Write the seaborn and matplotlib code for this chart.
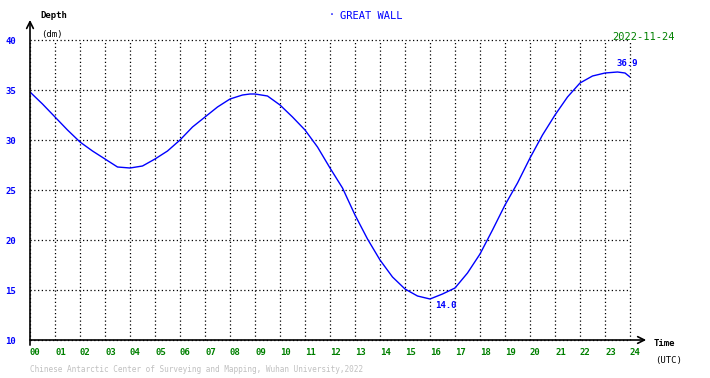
import numpy as np
import pandas as pd
import matplotlib
matplotlib.use('Agg')
import matplotlib.pyplot as plt
import seaborn as sns

# giờ UTC và độ sâu (dm)
hours = [0, 0.5, 1, 1.5, 2, 2.5, 3, 3.5, 4, 4.5, 5, 5.5, 6, 6.5, 7, 7.5, 8, 8.5,
         8.8, 9, 9.5, 10, 10.5, 11, 11.5, 12, 12.5, 13, 13.5, 14, 14.5, 15, 15.5,
         16, 16.5, 17, 17.5, 18, 18.5, 19, 19.5, 20, 20.5, 21, 21.5, 22, 22.5,
         23, 23.5, 23.8, 24]
depth = [34.8, 33.6, 32.3, 31.0, 29.8, 28.9, 28.1, 27.3, 27.2, 27.4, 28.1, 28.9,
         30.0, 31.3, 32.3, 33.3, 34.1, 34.5, 34.6, 34.6, 34.4, 33.5, 32.3, 31.0,
         29.3, 27.2, 25.2, 22.5, 20.1, 18.0, 16.3, 15.1, 14.4, 14.1, 14.6, 15.2,
         16.7, 18.6, 21.0, 23.5, 25.7, 28.2, 30.5, 32.5, 34.3, 35.7, 36.4, 36.7,
         36.8, 36.7, 36.3]
x_labels = ['%02d' % h for h in range(25)]
y_ticks = [10, 15, 20, 25, 30, 35, 40]

df = pd.DataFrame({'hour': hours, 'depth': depth})

sns.set_style('white')
plt.rcParams['font.family'] = ['DejaVu Sans Mono']

fig = plt.figure(figsize=(7.1, 3.78), dpi=100)
ax = fig.add_axes([30 / 710, 38 / 378, 600 / 710, 300 / 378])

sns.lineplot(data=df, x='hour', y='depth', color='#0000ff', linewidth=1, ax=ax)

ax.set_xlim(0, 24)
ax.set_ylim(10, 40)
ax.set_xticks(range(25))
ax.set_xticklabels(x_labels)
ax.set_yticks(y_ticks)
ax.set_yticklabels([str(v) for v in y_ticks])
ax.set_xlabel('')
ax.set_ylabel('')
ax.grid(True, color='black', linestyle=(0, (1, 2)), linewidth=0.9)
for gl in ax.get_xgridlines() + ax.get_ygridlines():
    gl.set_clip_on(False)
for s in ['top', 'right', 'left', 'bottom']:
    ax.spines[s].set_visible(False)
ax.tick_params(axis='x', length=0, pad=6, labelsize=6.5, labelcolor='#008000')
ax.tick_params(axis='y', length=0, pad=10, labelsize=6.5, labelcolor='#0000ff')
for lbl in ax.get_xticklabels():
    lbl.set_horizontalalignment('left')
    lbl.set_fontweight('bold')
for lbl in ax.get_yticklabels():
    lbl.set_fontweight('bold')

# trục có mũi tên
ax.annotate('', xy=(0, 1.067), xytext=(0, -0.017), xycoords='axes fraction',
            arrowprops=dict(arrowstyle='->', color='black', lw=1.2,
                            mutation_scale=12, shrinkA=0, shrinkB=0),
            annotation_clip=False)
ax.annotate('', xy=(1.027, 0), xytext=(0, 0), xycoords='axes fraction',
            arrowprops=dict(arrowstyle='->', color='black', lw=1.2,
                            mutation_scale=12, shrinkA=0, shrinkB=0),
            annotation_clip=False)

# nhãn giá trị lớn nhất và nhỏ nhất
ax.text(23.45, 37.2, '36.9', color='#0000ff', fontsize=6.5, fontweight='bold',
        ha='left', va='bottom')
ax.text(16.2, 13.9, '14.0', color='#0000ff', fontsize=6.5, fontweight='bold',
        ha='left', va='top')

fig.text(40 / 710, 1 - 16 / 378, 'Depth', fontsize=6.5, fontweight='bold',
         color='black', va='center')
fig.text(41 / 710, 1 - 34 / 378, '(dm)', fontsize=6.5, color='black', va='center')
fig.text(329 / 710, 1 - 15 / 378, '·', fontsize=7, color='#0000ff', va='center')
fig.text(340 / 710, 1 - 16 / 378, 'GREAT WALL', fontsize=7.5, color='#0000ff', va='center')
fig.text(612 / 710, 1 - 37 / 378, '2022-11-24', fontsize=7.5, color='#008000', va='center')
fig.text(654 / 710, 1 - 344 / 378, 'Time', fontsize=6.5, fontweight='bold',
         color='black', va='center')
fig.text(655 / 710, 1 - 360 / 378, '(UTC)', fontsize=6.5, color='black', va='center')
fig.text(30 / 710, 1 - 370 / 378,
         'Chinese Antarctic Center of Surveying and Mapping, Wuhan University,2022',
         fontsize=5.6, color='#c0c0c0', va='center')

fig.savefig('out.png', dpi=100)
